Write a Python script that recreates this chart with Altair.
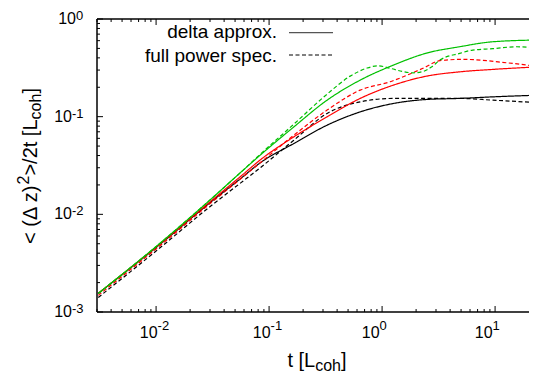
import math
import altair as alt
import pandas as pd

FONT = "Liberation Sans"

# ---- data ----
t_common = [0.00308, 0.01, 0.0316, 0.0561, 0.0841, 0.1655, 0.326, 0.640, 1.26, 2.48, 4.86, 9.57, 25.0]
green_solid = [0.00155, 0.00468, 0.01479, 0.0269, 0.0407, 0.0785, 0.1476, 0.2366, 0.3373, 0.4477, 0.520, 0.585, 0.610]
red_solid = [0.00155, 0.00462, 0.01413, 0.0245, 0.0363, 0.0621, 0.0995, 0.1538, 0.2104, 0.2600, 0.2877, 0.3048, 0.3243]
black_solid = [0.00155, 0.00457, 0.01380, 0.0233, 0.0339, 0.0531, 0.0818, 0.1119, 0.1365, 0.1500, 0.1538, 0.1596, 0.1663]
black_dashed = [0.00141, 0.00421, 0.01259, 0.0210, 0.0302, 0.0574, 0.1079, 0.1419, 0.1538, 0.1538, 0.1538, 0.1476, 0.1387]

t_red_dashed = [0.00308, 0.01, 0.0316, 0.0561, 0.0841, 0.1655, 0.326, 0.640, 1.176, 2.296, 3.24, 5.17, 12.6, 25.0]
red_dashed = [0.00148, 0.00442, 0.01349, 0.0231, 0.0339, 0.0646, 0.1167, 0.1871, 0.2275, 0.3126, 0.3741, 0.3864, 0.3565, 0.3243]

t_green_dashed = [0.00308, 0.01, 0.0316, 0.0561, 0.0841, 0.1655, 0.326, 0.522, 0.738, 0.922, 1.176, 1.531,
                  1.875, 2.296, 2.758, 3.244, 4.86, 6.34, 9.51, 15.5, 25.0]
green_dashed = [0.00155, 0.00468, 0.01479, 0.0269, 0.0415, 0.0838, 0.170, 0.260, 0.3148, 0.3319, 0.3126, 0.2897,
                0.2812, 0.2897, 0.3243, 0.3793, 0.4446, 0.4808, 0.4966, 0.520, 0.501]

x_major = [0.01, 0.1, 1, 10]
x_minor = [0.003, 0.004, 0.005, 0.006, 0.007, 0.008, 0.009,
           0.02, 0.03, 0.04, 0.05, 0.06, 0.07, 0.08, 0.09,
           0.2, 0.3, 0.4, 0.5, 0.6, 0.7, 0.8, 0.9,
           2, 3, 4, 5, 6, 7, 8, 9]
y_major = [0.001, 0.01, 0.1, 1]
y_minor = [0.002, 0.003, 0.004, 0.005, 0.006, 0.007, 0.008, 0.009,
           0.02, 0.03, 0.04, 0.05, 0.06, 0.07, 0.08, 0.09,
           0.2, 0.3, 0.4, 0.5, 0.6, 0.7, 0.8, 0.9]
x_lab_neg = [0.01, 0.1]
x_exp_neg = ["-2", "-1"]
x_lab_pos = [1, 10]
x_exp_pos = ["0", "1"]
y_lab_neg = [0.001, 0.01, 0.1]
y_exp_neg = ["-3", "-2", "-1"]
y_lab_pos = [1]
y_exp_pos = ["0"]

# ---- layout ----
# the full plot spans t = 0.003 .. 25 at 113 px per decade; only the part that fits the page is drawn
PX_PER_DEC = 113.0
W, H = 432, 293
x_hi = 10 ** (math.log10(0.003) + W / PX_PER_DEC)
xs = alt.Scale(type="log", domain=[0.003, x_hi])
ys = alt.Scale(type="log", domain=[0.001, 1])


def X(f):
    return alt.X(f, type="quantitative", scale=xs, axis=None)


def Y(f):
    return alt.Y(f, type="quantitative", scale=ys, axis=None)


rows = []
series = [
    ("black solid", t_common, black_solid, "#000000", "solid"),
    ("black dashed", t_common, black_dashed, "#000000", "dashed"),
    ("red solid", t_common, red_solid, "#ff0000", "solid"),
    ("red dashed", t_red_dashed, red_dashed, "#ff0000", "dashed"),
    ("green solid", t_common, green_solid, "#00c000", "solid"),
    ("green dashed", t_green_dashed, green_dashed, "#00c000", "dashed"),
]
for name, ts, vs, col, dash in series:
    for t, v in zip(ts, vs):
        rows.append({"series": name, "t": t, "v": v, "color": col, "dash": dash})
df = pd.DataFrame(rows)

lines = alt.Chart(df).mark_line(clip=True, strokeWidth=1.2, interpolate="monotone").encode(
    x=X("t"), y=Y("v"),
    color=alt.Color("color:N", scale=None),
    strokeDash=alt.StrokeDash("dash:N", scale=alt.Scale(domain=["solid", "dashed"], range=[[1, 0], [4, 2.5]]), legend=None),
    detail="series:N",
    order=alt.Order("t:Q"),
)

layers = [lines]

# frame (left, top, bottom); the right side lies just off the page
frame = pd.DataFrame({"k": ["frame"]})
layers += [
    alt.Chart(frame).mark_rule(color="black", strokeWidth=1.5).encode(x=alt.value(0), x2=alt.value(W), y=alt.value(0)),
    alt.Chart(frame).mark_rule(color="black", strokeWidth=1.5).encode(x=alt.value(0), x2=alt.value(W), y=alt.value(H)),
    alt.Chart(frame).mark_rule(color="black", strokeWidth=1.5).encode(x=alt.value(0), y=alt.value(0), y2=alt.value(H)),
]

MAJ, MIN = 6, 3
for vals, ln in [(x_major, MAJ), (x_minor, MIN)]:
    d = pd.DataFrame({"t": vals})
    layers.append(alt.Chart(d).mark_rule(color="black", strokeWidth=1).encode(x=X("t"), y=alt.value(H), y2=alt.value(H - ln)))
    layers.append(alt.Chart(d).mark_rule(color="black", strokeWidth=1).encode(x=X("t"), y=alt.value(0), y2=alt.value(ln)))
for vals, ln in [(y_major, MAJ), (y_minor, MIN)]:
    d = pd.DataFrame({"v": vals})
    layers.append(alt.Chart(d).mark_rule(color="black", strokeWidth=1).encode(y=Y("v"), x=alt.value(0), x2=alt.value(ln)))

# x tick labels
for vals, exps, dx in [(x_lab_neg, x_exp_neg, 1.5), (x_lab_pos, x_exp_pos, -2.5)]:
    d = pd.DataFrame({"t": vals, "base": ["10"] * len(vals), "exp": exps})
    layers.append(alt.Chart(d).mark_text(align="right", baseline="alphabetic", dx=dx, fontSize=16, font=FONT, color="black")
                  .encode(x=X("t"), y=alt.value(319), text="base:N"))
    layers.append(alt.Chart(d).mark_text(align="left", baseline="alphabetic", dx=dx, fontSize=13, font=FONT, color="black")
                  .encode(x=X("t"), y=alt.value(311), text="exp:N"))

# y tick labels
for vals, exps, xp in [(y_lab_neg, y_exp_neg, -25), (y_lab_pos, y_exp_pos, -21)]:
    d = pd.DataFrame({"v": vals, "base": ["10"] * len(vals), "exp": exps})
    layers.append(alt.Chart(d).mark_text(align="right", baseline="alphabetic", dy=5, fontSize=16, font=FONT, color="black")
                  .encode(y=Y("v"), x=alt.value(xp), text="base:N"))
    layers.append(alt.Chart(d).mark_text(align="left", baseline="alphabetic", dy=1, fontSize=13, font=FONT, color="black")
                  .encode(y=Y("v"), x=alt.value(xp), text="exp:N"))


def txt(s, x, y, size, align="left", angle=0):
    return alt.Chart(pd.DataFrame({"s": [s]})).mark_text(
        align=align, baseline="alphabetic", fontSize=size, font=FONT, color="black", angle=angle
    ).encode(x=alt.value(x), y=alt.value(y), text="s:N")


# x title: t [L_coh]
layers += [
    txt("t [L", 190.4, 348, 20),
    txt("coh", 218.2, 351.5, 16),
    txt("]", 244.0, 348, 20),
]
# y title: < (Δ z)^2>/2t [L_coh]
layers += [
    txt("< (\u0394 z)", -60, 225, 20, angle=270),
    txt("2", -68, 165.5, 16, angle=270),
    txt(">/2t [L", -60, 156.6, 20, angle=270),
    txt("coh", -56, 100.4, 16, angle=270),
    txt("]", -60, 74.6, 20, angle=270),
]

# key
layers += [
    txt("delta approx.", 180, 19.3, 19, align="right"),
    txt("full power spec.", 180, 42.7, 19, align="right"),
    alt.Chart(pd.DataFrame({"k": ["solid"]})).mark_rule(color="#555555", strokeWidth=1.2).encode(
        x=alt.value(192), x2=alt.value(236), y=alt.value(13.7)),
    alt.Chart(pd.DataFrame({"k": ["dashed"]})).mark_rule(color="black", strokeWidth=1, strokeDash=[4, 2.5]).encode(
        x=alt.value(192), x2=alt.value(236), y=alt.value(36)),
]

chart = alt.layer(*layers).properties(
    width=W, height=H,
    autosize=alt.AutoSizeParams(type="none"),
    padding={"left": 89, "top": 11, "right": 0, "bottom": 60},
).configure_view(stroke=None)

chart.save("out.html", embed_options={"renderer": "svg", "actions": False})
